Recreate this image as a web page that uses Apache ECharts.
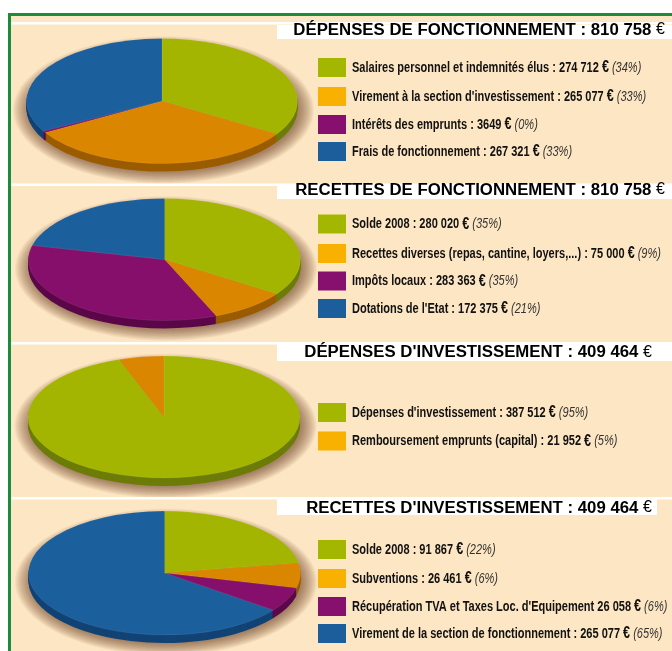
<!DOCTYPE html>
<html><head><meta charset="utf-8">
<script src="https://cdn.jsdelivr.net/npm/echarts@6/dist/echarts.min.js"></script>
<style>html,body{margin:0;padding:0;background:#fff}#c{width:672px;height:651px}</style>
</head><body><div id="c"></div>
<script>
// ---- data ----
const sectionTitles = ['DÉPENSES DE FONCTIONNEMENT', 'RECETTES DE FONCTIONNEMENT', "DÉPENSES D'INVESTISSEMENT", "RECETTES D'INVESTISSEMENT"];
const sectionTotals = [810758, 810758, 409464, 409464];

const depFonctLabels = ['Salaires personnel et indemnités élus :', "Virement à la section d'investissement :", 'Intérêts des emprunts :', 'Frais de fonctionnement :'];
const depFonctValues = [274712, 265077, 3649, 267321];

const recFonctLabels = ['Solde 2008 :', 'Recettes diverses (repas, cantine, loyers,...) :', 'Impôts locaux :', "Dotations de l'Etat :"];
const recFonctValues = [280020, 75000, 283363, 172375];

const depInvLabels = ["Dépenses d'investissement :", 'Remboursement emprunts (capital) :'];
const depInvValues = [387512, 21952];

const recInvLabels = ['Solde 2008 :', 'Subventions :', "Récupération TVA et Taxes Loc. d'Equipement", 'Virement de la section de fonctionnement :'];
const recInvValues = [91867, 26461, 26058, 265077];

// ---- styles ----
const topColors = ['#A3B500', '#DB8600', '#860F6C', '#1B5F9C'];
const sideColors = ['#6D7C08', '#9B5C00', '#5C0749', '#124375'];
const legendColors = ['#A4B700', '#F8B100', '#870F6E', '#1B5E9B'];
const BEIGE = '#FDE6C3';
const GREEN = '#1A8C3C';

const sections = [
  { labels: depFonctLabels, values: depFonctValues, pie: { cx: 162, cy: 101, rx: 135.5, ry: 62.5 }, sepY: 22, box: [25, 39, 672], titleY: 30, titleRight: 665, rows: [67.5, 96.5, 124.5, 151.5] },
  { labels: recFonctLabels, values: recFonctValues, pie: { cx: 164.5, cy: 259.5, rx: 136, ry: 61 }, sepY: 183.5, box: [186, 199, 672], titleY: 190, titleRight: 665, rows: [224, 253.5, 281, 308.5] },
  { labels: depInvLabels, values: depInvValues, pie: { cx: 164, cy: 417, rx: 136, ry: 61 }, sepY: 342, box: [344, 361, 672], titleY: 352.5, titleRight: 652, rows: [412.5, 441] },
  { labels: recInvLabels, values: recInvValues, pie: { cx: 164.5, cy: 573, rx: 136, ry: 62 }, sepY: 497, box: [499, 515, 657], titleY: 508, titleRight: 652, rows: [549.5, 578.5, 606.5, 633.5] }
];
const DEPTH = 8;

function fmt(n) {
  const s = String(n);
  if (n < 10000) return s;
  return s.replace(/\B(?=(\d{3})+(?!\d))/g, ' ');
}
function ellipsePoints(cx, cy, rx, ry) {
  const pts = [];
  for (let t = 0; t < 144; t++) {
    const a = t / 144 * 2 * Math.PI;
    pts.push([cx + rx * Math.cos(a), cy + ry * Math.sin(a)]);
  }
  return pts;
}

const graphic = [];
graphic.push({ type: 'rect', z: -10, shape: { x: 11, y: 16, width: 661, height: 635 }, style: { fill: BEIGE } });
graphic.push({ type: 'rect', z: 20, shape: { x: 8, y: 13, width: 664, height: 3 }, style: { fill: GREEN } });
graphic.push({ type: 'rect', z: 20, shape: { x: 8, y: 13, width: 3, height: 638 }, style: { fill: GREEN } });

const series = [];

sections.forEach(function (sec, k) {
  const total = sec.values.reduce(function (a, b) { return a + b; }, 0);
  const L = sec.pie;
  // soft drop shadow under the pie: stacked translucent ellipses
  for (let s = 15; s >= 0; s -= 1) {
    graphic.push({
      type: 'polygon', z: -5,
      shape: { points: ellipsePoints(L.cx + 1.5, L.cy + DEPTH + 1, L.rx + s, L.ry + s * 0.75) },
      style: { fill: 'rgba(85,55,15,0.045)' }
    });
  }
  // separator + title
  graphic.push({ type: 'rect', z: 10, shape: { x: 11, y: sec.sepY, width: 661, height: 2.5 }, style: { fill: '#FFFFFF' } });
  graphic.push({ type: 'rect', z: 10, shape: { x: 277, y: sec.box[0], width: sec.box[2] - 277, height: sec.box[1] - sec.box[0] }, style: { fill: '#FFFFFF' } });
  graphic.push({
    type: 'text', z: 11, x: sec.titleRight, y: sec.titleY,
    style: {
      text: sectionTitles[k] + ' : ' + fmt(sectionTotals[k]) + ' {e|€}',
      font: 'bold 16.8px "Liberation Sans", Arial, sans-serif',
      fill: '#000', align: 'right', verticalAlign: 'middle',
      rich: { e: { fontSize: 16, fontWeight: 'normal', fontFamily: '"Liberation Sans", Arial, sans-serif', fill: '#000' } }
    }
  });
  // legend
  sec.labels.forEach(function (lab, i) {
    const y = sec.rows[i];
    const pct = Math.round(sec.values[i] / total * 100);
    graphic.push({ type: 'rect', z: 10, shape: { x: 318, y: y - 9.5, width: 28, height: 19 }, style: { fill: legendColors[i] } });
    graphic.push({
      type: 'text', z: 11, x: 352, y: y, scaleX: 0.76,
      style: {
        text: lab + ' ' + fmt(sec.values[i]) + ' {e|€} {p|(' + pct + '%)}',
        font: 'bold 14.5px "Liberation Sans", Arial, sans-serif',
        fill: '#111', align: 'left', verticalAlign: 'middle',
        rich: {
          e: { fontSize: 16.5, fontWeight: 'bold', fontFamily: '"Liberation Sans", Arial, sans-serif', fill: '#111' },
          p: { fontSize: 14.5, fontWeight: 'normal', fontStyle: 'italic', fontFamily: '"Liberation Sans", Arial, sans-serif', fill: '#333' }
        }
      }
    });
  });
  // pie
  const starts = [];
  let acc = 0;
  sec.values.forEach(function (v) { starts.push(acc); acc += v; });
  const ky = L.ry / L.rx;
  series.push({
    type: 'custom', coordinateSystem: 'none', z: 2, silent: true,
    data: sec.values.map(function (v, i) { return { name: sec.labels[i], value: v }; }),
    renderItem: function (params, api) {
      const i = params.dataIndex;
      const a0 = -Math.PI / 2 + starts[i] / total * 2 * Math.PI;
      const a1 = a0 + api.value(0) / total * 2 * Math.PI;
      const children = [];
      for (let d = DEPTH; d >= 1; d -= 1) {
        children.push({ type: 'sector', z2: 10 - d * 0.5, shape: { cx: 0, cy: d / ky, r: L.rx, r0: 0, startAngle: a0, endAngle: a1, clockwise: true },
          style: { fill: sideColors[i] } });
      }
      children.push({ type: 'sector', z2: 20, shape: { cx: 0, cy: 0, r: L.rx, r0: 0, startAngle: a0, endAngle: a1, clockwise: true },
        style: { fill: topColors[i], stroke: 'rgba(255,255,255,0.18)', lineWidth: 0.6, strokeNoScale: true } });
      return { type: 'group', x: L.cx, y: L.cy, scaleY: ky, children: children };
    }
  });
});

const chart = echarts.init(document.getElementById('c'), null, { renderer: 'canvas' });
chart.setOption({
  backgroundColor: '#FFFFFF',
  animation: false,
  graphic: { elements: graphic },
  series: series
});
</script>
</body></html>
